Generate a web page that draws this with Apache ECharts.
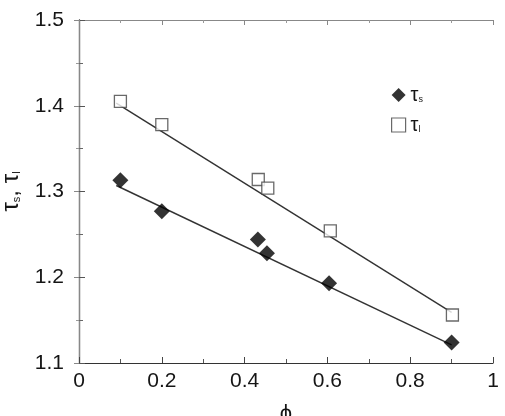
<!DOCTYPE html>
<html>
<head>
<meta charset="utf-8">
<script src="https://cdn.jsdelivr.net/npm/echarts@6/dist/echarts.min.js"></script>
<style>html,body{margin:0;padding:0;background:#fff}#c{width:505px;height:416px}</style>
</head>
<body>
<div id="c"></div>
<script>
var phiS = [0.1, 0.2, 0.432, 0.454, 0.604, 0.9];
var tauS = [1.313, 1.277, 1.244, 1.228, 1.193, 1.124];
var phiL = [0.1, 0.2, 0.433, 0.456, 0.607, 0.902];
var tauL = [1.405, 1.378, 1.314, 1.304, 1.254, 1.156];
var fitX = [0.09, 0.9];
var fitS = [1.307, 1.121];
var fitL = [1.403, 1.159];
var xTicks = [0, 0.2, 0.4, 0.6, 0.8, 1];
var yTicks = [1.1, 1.2, 1.3, 1.4, 1.5];

function pairs(xs, ys){ return xs.map(function(x,i){return [x, ys[i]];}); }

var FONT = '"Liberation Sans", Arial, sans-serif';
var TXT = '#151515';
var chart = echarts.init(document.getElementById('c'), null, {renderer:'canvas'});
chart.setOption({
  animation: false,
  backgroundColor: '#fff',
  textStyle: {fontFamily: FONT},
  grid: {left: 79, right: 12, top: 20, bottom: 53, containLabel: false, outerBoundsMode: 'none'},
  legend: {
    left: 386, top: 80, orient: 'vertical', itemGap: 10,
    itemWidth: 14, itemHeight: 14,
    textStyle: {
      fontFamily: FONT, fontSize: 20, color: TXT,
      rich: {t: {fontSize: 20, color: TXT, fontFamily: FONT}, s: {fontSize: 9, color: TXT, padding:[10,0,0,0], fontFamily: FONT}}
    },
    formatter: function(n){ return n === 'ts' ? '{t|τ}{s|s}' : '{t|τ}{s|l}'; },
    data: [{name: 'ts', icon: 'diamond', itemStyle: {color: '#000'}},
           {name: 'tl', icon: 'rect', itemStyle: {color: '#fff', borderColor: '#444', borderWidth: 1.2}}]
  },
  xAxis: [{
    type: 'value', min: 0, max: 1, interval: 0.2, position: 'bottom',
    name: 'ϕ', nameLocation: 'middle', nameGap: 40,
    nameTextStyle: {fontSize: 22, color: TXT, fontFamily: FONT},
    axisLine: {show: true, lineStyle: {color: '#333', width: 1.2}},
    axisTick: {inside: true, length: 6, lineStyle: {color: '#444'}},
    minorTick: {show: true, splitNumber: 2, length: 4, lineStyle: {color: '#555'}},
    splitLine: {show: false},
    axisLabel: {fontSize: 21, color: TXT, margin: 8, fontFamily: FONT,
      formatter: function(v){ return String(+v.toFixed(1)); }}
  }, {
    type: 'value', min: 0, max: 1, interval: 0.2, position: 'top',
    axisLine: {show: true, lineStyle: {color: '#888', width: 1}},
    axisTick: {inside: true, length: 5, lineStyle: {color: '#888'}},
    minorTick: {show: true, splitNumber: 2, length: 3, lineStyle: {color: '#999'}},
    splitLine: {show: false}, axisLabel: {show: false}
  }],
  yAxis: [{
    type: 'value', min: 1.1, max: 1.5, interval: 0.1, position: 'left',
    name: '{t|τ}{s|s}{t|, τ}{s|l}', nameLocation: 'middle', nameGap: 56, nameRotate: 90,
    nameTextStyle: {fontFamily: FONT, color: TXT,
      rich: {t: {fontSize: 24, color: TXT, fontFamily: FONT}, s: {fontSize: 11, color: TXT, padding:[11,0,0,0], fontFamily: FONT}}},
    axisLine: {show: true, lineStyle: {color: '#222', width: 1.3}},
    axisTick: {inside: true, length: 6, lineStyle: {color: '#555'}},
    minorTick: {show: true, splitNumber: 2, length: 4, lineStyle: {color: '#666'}},
    splitLine: {show: false},
    axisLabel: {fontSize: 21, color: TXT, margin: 15, fontFamily: FONT,
      formatter: function(v){ return v.toFixed(1); }}
  }, {
    type: 'value', min: 1.1, max: 1.5, interval: 0.1, position: 'right',
    axisLine: {show: true, lineStyle: {color: '#888', width: 1}},
    axisTick: {inside: true, length: 5, lineStyle: {color: '#888'}},
    minorTick: {show: true, splitNumber: 2, length: 3, lineStyle: {color: '#999'}},
    splitLine: {show: false}, axisLabel: {show: false}
  }],
  series: [
    {type: 'line', data: pairs(fitX, fitL), symbol: 'none', lineStyle: {color: '#333', width: 1.4}, silent: true, z: 1},
    {type: 'line', data: pairs(fitX, fitS), symbol: 'none', lineStyle: {color: '#333', width: 1.4}, silent: true, z: 1},
    {name: 'tl', type: 'scatter', data: pairs(phiL, tauL), symbol: 'rect', symbolSize: 12,
      itemStyle: {color: '#fff', borderColor: '#444', borderWidth: 1.3}, z: 3},
    {name: 'ts', type: 'scatter', data: pairs(phiS, tauS), symbol: 'diamond', symbolSize: 16,
      itemStyle: {color: '#000'}, z: 4}
  ]
});
</script>
</body>
</html>
